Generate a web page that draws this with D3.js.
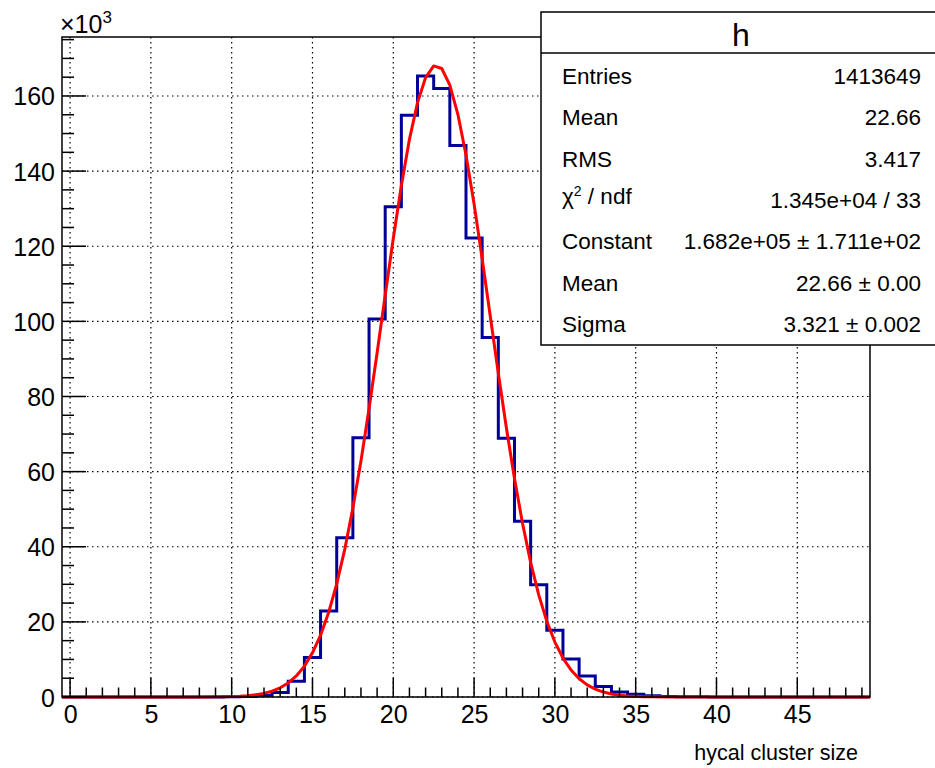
<!DOCTYPE html>
<html>
<head>
<meta charset="utf-8">
<script src="https://cdn.jsdelivr.net/npm/d3@7"></script>
<style>
  body { margin: 0; background: #fff; }
  text { font-family: "Liberation Sans", Arial, Helvetica, sans-serif; fill: #000; }
</style>
</head>
<body>
<div class="chart"></div>
<script>
var svgWidth = 935;
var svgHeight = 768;

// frame of the pad
var frame = { left: 62, right: 870, top: 37, bottom: 697 };

// histogram: one bin per integer cluster size, 0..49 (counts in thousands)
var binCenters = [0, 1, 2, 3, 4, 5, 6, 7, 8, 9,
                  10, 11, 12, 13, 14, 15, 16, 17, 18, 19,
                  20, 21, 22, 23, 24, 25, 26, 27, 28, 29,
                  30, 31, 32, 33, 34, 35, 36, 37, 38, 39,
                  40, 41, 42, 43, 44, 45, 46, 47, 48, 49];
var binCounts = [0, 0, 0, 0, 0, 0, 0, 0, 0, 0,
                 0.05, 0.15, 0.45, 1.2, 4.2, 10.5, 22.9, 42.4, 69.0, 100.6,
                 130.5, 154.9, 165.3, 162.0, 146.8, 122.2, 95.7, 68.9, 46.8, 29.9,
                 17.8, 10.1, 5.6, 2.8, 1.3, 0.7, 0.35, 0.15, 0.08, 0.04,
                 0.02, 0.01, 0, 0, 0, 0, 0, 0, 0, 0];

// gaus fit curve as drawn (thousands)
var fitX = [-0.5, 5, 8, 9, 9.5, 10, 10.5, 11, 11.5, 12, 12.5, 13, 13.5, 14, 14.5,
            15, 15.5, 16, 16.5, 17, 17.5, 18, 18.5, 19, 19.5, 20, 20.5, 21, 21.5,
            22, 22.5, 23, 23.5, 24, 24.5, 25, 25.5, 26, 26.5, 27, 27.5, 28, 28.5,
            29, 29.5, 30, 30.5, 31, 31.5, 32, 32.5, 33, 33.5, 34, 34.5, 35, 35.5,
            36, 37, 40, 49.5];
var fitY = [0, 0, 0.01, 0.04, 0.07, 0.12, 0.21, 0.35, 0.59, 0.97, 1.56, 2.45, 3.75, 5.61, 8.22,
            11.77, 16.46, 22.52, 30.11, 39.36, 50.31, 62.84, 76.75, 91.64, 106.96, 122.05, 136.14, 148.45, 158.24,
            164.91, 168.0, 167.32, 162.9, 155.05, 144.27, 131.23, 116.68, 101.42, 86.2, 71.62, 58.16, 46.17, 35.84,
            27.2, 20.17, 14.62, 10.37, 7.19, 4.87, 3.22, 2.09, 1.32, 0.82, 0.49, 0.29, 0.17, 0.09,
            0.05, 0.015, 0, 0];

var xMajorTicks = [0, 5, 10, 15, 20, 25, 30, 35, 40, 45];
var yMajorTicks = [0, 20, 40, 60, 80, 100, 120, 140, 160];

var statLabels = ["Entries", "Mean", "RMS", "χ2 / ndf", "Constant", "Mean", "Sigma"];
var statValues = ["1413649", "22.66", "3.417", "1.345e+04 / 33",
                  "1.682e+05 ± 1.711e+02", "22.66 ± 0.00", "3.321 ± 0.002"];

var svg = d3.select(".chart")
  .append("svg")
  .attr("width", svgWidth)
  .attr("height", svgHeight);

var xScale = d3.scaleLinear().domain([-0.5, 49.5]).range([frame.left, frame.right]);
var yScale = d3.scaleLinear().domain([0, 175.7]).range([frame.bottom, frame.top]);

// grid
var grid = svg.append("g")
  .attr("stroke", "#000")
  .attr("stroke-width", 1.2)
  .attr("stroke-dasharray", "1.5,3.5");

grid.selectAll("line.vg")
  .data(xMajorTicks)
  .enter()
  .append("line")
  .attr("x1", function(d) { return xScale(d); })
  .attr("x2", function(d) { return xScale(d); })
  .attr("y1", frame.top)
  .attr("y2", frame.bottom);

grid.selectAll("line.hg")
  .data(yMajorTicks)
  .enter()
  .append("line")
  .attr("x1", frame.left)
  .attr("x2", frame.right)
  .attr("y1", function(d) { return yScale(d); })
  .attr("y2", function(d) { return yScale(d); });

// histogram outline (steps)
var stepPts = [[xScale(-0.5), yScale(0)]];
binCenters.forEach(function(c, i) {
  stepPts.push([xScale(c - 0.5), yScale(binCounts[i])]);
  stepPts.push([xScale(c + 0.5), yScale(binCounts[i])]);
});
stepPts.push([xScale(49.5), yScale(0)]);

svg.append("path")
  .attr("d", d3.line()(stepPts))
  .attr("fill", "none")
  .attr("stroke", "#000099")
  .attr("stroke-width", 3);

// fit
svg.append("path")
  .datum(fitX)
  .attr("d", d3.line()
    .x(function(d) { return xScale(d); })
    .y(function(d, i) { return yScale(fitY[i]); }))
  .attr("fill", "none")
  .attr("stroke", "#ff0000")
  .attr("stroke-width", 3)
  .attr("stroke-linejoin", "round");

// axes
var xAxis = d3.axisBottom(xScale).tickValues(xMajorTicks).tickSize(0).tickPadding(0);
var xAxisG = svg.append("g")
  .attr("transform", "translate(0," + frame.bottom + ")")
  .call(xAxis);
xAxisG.select(".domain").remove();
xAxisG.selectAll("text")
  .attr("y", 26)
  .attr("dy", 0)
  .style("font-size", "25px")
  .style("font-family", "Liberation Sans, Arial, sans-serif");

var yAxis = d3.axisLeft(yScale).tickValues(yMajorTicks).tickSize(0).tickPadding(7);
var yAxisG = svg.append("g")
  .attr("transform", "translate(" + frame.left + ",0)")
  .call(yAxis);
yAxisG.select(".domain").remove();
yAxisG.selectAll("text")
  .attr("dy", "0.36em")
  .style("font-size", "25px")
  .style("font-family", "Liberation Sans, Arial, sans-serif");

// tick marks (inside frame)
var ticks = svg.append("g").attr("stroke", "#000").attr("stroke-width", 1.5);
var xMinor = d3.range(0, 50, 1);
ticks.selectAll("line.xt")
  .data(xMinor)
  .enter()
  .append("line")
  .attr("x1", function(d) { return xScale(d); })
  .attr("x2", function(d) { return xScale(d); })
  .attr("y1", frame.bottom)
  .attr("y2", function(d) { return frame.bottom - (d % 5 === 0 ? 19 : 9.5); });

var yMinor = d3.range(0, 176, 5);
ticks.selectAll("line.yt")
  .data(yMinor)
  .enter()
  .append("line")
  .attr("y1", function(d) { return yScale(d); })
  .attr("y2", function(d) { return yScale(d); })
  .attr("x1", frame.left)
  .attr("x2", function(d) { return frame.left + (d % 20 === 0 ? 24 : 12); });

// frame
svg.append("rect")
  .attr("x", frame.left)
  .attr("y", frame.top)
  .attr("width", frame.right - frame.left)
  .attr("height", frame.bottom - frame.top)
  .attr("fill", "none")
  .attr("stroke", "#000")
  .attr("stroke-width", 1.5);

// x10^3
var expo = svg.append("text")
  .attr("x", 60)
  .attr("y", 33)
  .style("font-size", "25px");
expo.append("tspan").text("×10");
expo.append("tspan").attr("dy", -10).style("font-size", "17px").text("3");

// axis title
svg.append("text")
  .attr("x", 858)
  .attr("y", 760)
  .attr("text-anchor", "end")
  .style("font-size", "21.5px")
  .text("hycal cluster size");

// stats box
var stats = svg.append("g");
stats.append("rect")
  .attr("x", 541)
  .attr("y", 12)
  .attr("width", 400)
  .attr("height", 333)
  .attr("fill", "#fff")
  .attr("stroke", "#000")
  .attr("stroke-width", 1.5);
stats.append("line")
  .attr("x1", 541).attr("x2", 935)
  .attr("y1", 53).attr("y2", 53)
  .attr("stroke", "#000")
  .attr("stroke-width", 1.5);
stats.append("text")
  .attr("x", 741)
  .attr("y", 46)
  .attr("text-anchor", "middle")
  .style("font-size", "32px")
  .text("h");

statLabels.forEach(function(lab, i) {
  var yy = 84 + i * 41.3;
  var t = stats.append("text")
    .attr("x", 562)
    .attr("y", yy)
    .style("font-size", "22.5px");
  if (lab.indexOf("χ2") === 0) {
    t.append("tspan").text("χ");
    t.append("tspan").attr("dy", -8).style("font-size", "14px").text("2");
    t.append("tspan").attr("dy", 8).text(" / ndf");
    t.attr("y", yy - 4);
  } else {
    t.text(lab);
  }
  stats.append("text")
    .attr("x", 921)
    .attr("y", yy)
    .attr("text-anchor", "end")
    .style("font-size", "22.5px")
    .text(statValues[i]);
});
</script>
</body>
</html>
